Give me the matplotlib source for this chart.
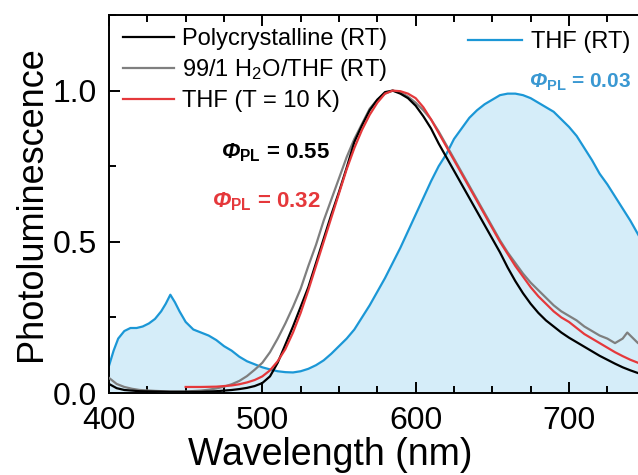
import numpy as np
import matplotlib
matplotlib.use('Agg')
import matplotlib.pyplot as plt
from matplotlib.ticker import MultipleLocator

plt.rcParams['font.family'] = ['Liberation Sans', 'DejaVu Sans']
plt.rcParams['mathtext.fontset'] = 'custom'
plt.rcParams['mathtext.rm'] = 'Liberation Sans'
plt.rcParams['mathtext.it'] = 'Liberation Sans:italic'
plt.rcParams['mathtext.bf'] = 'Liberation Sans:bold'
plt.rcParams['mathtext.bfit'] = 'Liberation Sans:bold:italic'

# THF (RT) - blue, filled
wl_thf = [400, 403, 406, 410, 414, 418, 422, 426, 430, 434, 437, 440, 443, 446, 450,
          455, 460, 465, 470, 475, 480, 485, 490, 495, 500, 505, 510, 515, 520, 525,
          530, 535, 540, 545, 550, 555, 560, 565, 570, 575, 580, 585, 590, 595, 600,
          605, 610, 615, 620, 625, 630, 635, 640, 645, 650, 655, 660, 665, 670, 675,
          680, 685, 690, 695, 700, 705, 710, 715, 720, 725, 730, 735, 740, 745, 750]
pl_thf = [0.09, 0.14, 0.18, 0.205, 0.215, 0.215, 0.22, 0.23, 0.245, 0.27, 0.295, 0.325, 0.30, 0.27, 0.235,
          0.21, 0.20, 0.19, 0.175, 0.155, 0.14, 0.12, 0.105, 0.095, 0.085, 0.078, 0.072, 0.069, 0.068, 0.072,
          0.08, 0.092, 0.108, 0.13, 0.155, 0.18, 0.21, 0.25, 0.29, 0.335, 0.38, 0.43, 0.48, 0.535, 0.59,
          0.645, 0.70, 0.75, 0.79, 0.84, 0.875, 0.91, 0.935, 0.955, 0.97, 0.985, 0.99, 0.99, 0.985, 0.975,
          0.96, 0.945, 0.93, 0.905, 0.88, 0.85, 0.81, 0.77, 0.725, 0.69, 0.65, 0.61, 0.57, 0.525, 0.48]

# 99/1 H2O/THF (RT) - grey
wl_agg = [400, 405, 410, 415, 420, 430, 440, 450, 460, 465, 470, 475, 480, 485, 490,
          495, 500, 505, 510, 515, 520, 525, 530, 535, 540, 545, 550, 555, 560, 565,
          570, 575, 580, 585, 590, 595, 600, 605, 610, 615, 620, 625, 630, 635, 640,
          645, 650, 655, 660, 665, 670, 675, 680, 685, 690, 695, 700, 705, 710, 715,
          720, 725, 730, 735, 738, 742, 745, 750]
pl_agg = [0.05, 0.03, 0.02, 0.014, 0.01, 0.007, 0.005, 0.005, 0.008, 0.011, 0.015, 0.021, 0.029, 0.04, 0.056,
          0.077, 0.10, 0.135, 0.18, 0.23, 0.285, 0.345, 0.42, 0.49, 0.57, 0.64, 0.71, 0.78, 0.84, 0.89,
          0.94, 0.97, 0.99, 1.0, 0.995, 0.98, 0.96, 0.935, 0.905, 0.865, 0.82, 0.775, 0.73, 0.685, 0.64,
          0.595, 0.55, 0.505, 0.465, 0.43, 0.395, 0.365, 0.34, 0.315, 0.29, 0.27, 0.255, 0.24, 0.22, 0.205,
          0.19, 0.18, 0.165, 0.18, 0.2, 0.18, 0.165, 0.155]

# Polycrystalline (RT) - black
wl_poly = [400, 405, 410, 420, 440, 460, 470, 480, 485, 490, 495, 500, 505, 510, 515,
           520, 525, 530, 535, 540, 545, 550, 555, 560, 565, 570, 575, 580, 585, 590,
           595, 600, 605, 610, 615, 620, 625, 630, 635, 640, 645, 650, 655, 660, 665,
           670, 675, 680, 685, 690, 695, 700, 705, 710, 715, 720, 725, 730, 735, 740,
           745, 750]
pl_poly = [0.03, 0.016, 0.01, 0.006, 0.004, 0.004, 0.006, 0.01, 0.013, 0.017, 0.023, 0.033, 0.055, 0.1, 0.16,
           0.22, 0.285, 0.35, 0.43, 0.51, 0.59, 0.665, 0.745, 0.83, 0.885, 0.935, 0.97, 0.995, 1.0, 0.99,
           0.975, 0.95, 0.915, 0.875, 0.825, 0.78, 0.735, 0.69, 0.645, 0.60, 0.555, 0.51, 0.465, 0.415, 0.37,
           0.33, 0.295, 0.265, 0.24, 0.22, 0.20, 0.183, 0.168, 0.153, 0.138, 0.123, 0.11, 0.097, 0.085, 0.075,
           0.066, 0.06]

# THF (T = 10 K) - red
wl_10k = [450, 460, 470, 480, 485, 490, 495, 500, 505, 510, 515, 520, 525, 530, 535,
          540, 545, 550, 555, 560, 565, 570, 575, 580, 585, 590, 595, 600, 605, 610,
          615, 620, 625, 630, 635, 640, 645, 650, 655, 660, 665, 670, 675, 680, 685,
          690, 695, 700, 705, 710, 715, 720, 725, 730, 735, 740, 745, 750]
pl_10k = [0.02, 0.02, 0.021, 0.025, 0.029, 0.035, 0.043, 0.055, 0.075, 0.105, 0.145, 0.20, 0.265, 0.34, 0.42,
          0.50, 0.58, 0.66, 0.74, 0.81, 0.87, 0.92, 0.96, 0.99, 1.0, 0.998, 0.99, 0.975, 0.945, 0.905,
          0.86, 0.815, 0.77, 0.725, 0.68, 0.635, 0.59, 0.545, 0.50, 0.46, 0.42, 0.385, 0.35, 0.32, 0.295,
          0.27, 0.25, 0.235, 0.215, 0.195, 0.18, 0.165, 0.15, 0.135, 0.122, 0.11, 0.10, 0.09]

blue = '#1b97d6'
red = '#e5383b'
grey = '#7f7f7f'

fig = plt.figure(figsize=(6.38, 4.75), dpi=100)
# the original is cropped on the right, so the axes stop at the figure edge with no right spine
ax = fig.add_axes([109 / 638, 0.1726, 1 - 109 / 638, 0.7958])

ax.fill_between(wl_thf, pl_thf, 0, color='#d5edf9', lw=0, zorder=1)
l_thf, = ax.plot(wl_thf, pl_thf, color=blue, lw=1.6, zorder=2, label='THF (RT)')
l_agg, = ax.plot(wl_agg, pl_agg, color=grey, lw=1.6, zorder=3, label='99/1 H$_2$O/THF (RT)')
l_poly, = ax.plot(wl_poly, pl_poly, color='black', lw=1.6, zorder=4, label='Polycrystalline (RT)')
l_10k, = ax.plot(wl_10k, pl_10k, color=red, lw=1.6, zorder=5, label='THF (T = 10 K)')

ax.set_xlim(400, 745)
ax.set_ylim(0, 1.25)
ax.xaxis.set_major_locator(MultipleLocator(100))
ax.xaxis.set_minor_locator(MultipleLocator(25))
ax.yaxis.set_major_locator(MultipleLocator(0.5))
ax.yaxis.set_minor_locator(MultipleLocator(0.25))
ax.yaxis.set_major_formatter(matplotlib.ticker.FormatStrFormatter('%.1f'))
ax.tick_params(which='both', direction='in', top=True, right=False, width=1.4, labelsize=23)
ax.tick_params(which='major', length=8, pad=9)
ax.tick_params(which='minor', length=5)
for s in ax.spines.values():
    s.set_linewidth(1.4)
ax.spines['right'].set_visible(False)

ax.set_xlabel('Wavelength (nm)', fontsize=27, labelpad=1, x=0.418)
ax.set_ylabel('Photoluminescence', fontsize=26, labelpad=2)

leg1 = ax.legend(handles=[l_poly, l_agg, l_10k], loc='upper left', bbox_to_anchor=(123 / 638, 1 - 28 / 475),
                 bbox_transform=fig.transFigure, frameon=False, fontsize=17, borderpad=0, borderaxespad=0,
                 handlelength=2.15, handletextpad=0.35, labelspacing=0.3)
ax.add_artist(leg1)
ax.legend(handles=[l_thf], loc='upper left', bbox_to_anchor=(468 / 638, 1 - 31 / 475),
          bbox_transform=fig.transFigure, frameon=False, fontsize=17, borderpad=0, borderaxespad=0,
          handlelength=2.3, handletextpad=0.35)

ax.text(473, 0.795, r'$\mathbfit{\Phi}_{\mathbf{PL}}$ = 0.55', color='black', fontsize=16,
        fontweight='bold', ha='left', va='center')
ax.text(467, 0.632, r'$\mathbfit{\Phi}_{\mathbf{PL}}$ = 0.32', color=red, fontsize=16,
        fontweight='bold', ha='left', va='center')
ax.text(674, 1.026, r'$\mathbfit{\Phi}_{\mathbf{PL}}$ = 0.03', color='#3a98d2', fontsize=15,
        fontweight='bold', ha='left', va='center')

fig.savefig('out.png', dpi=100)
